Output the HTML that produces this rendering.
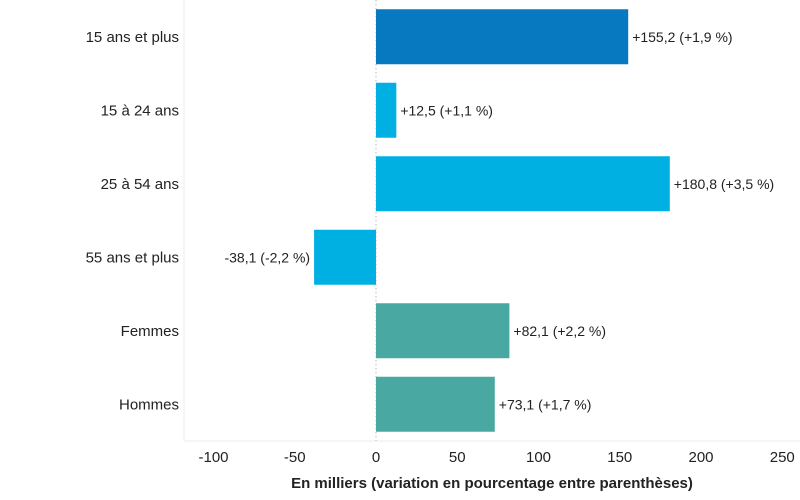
<!DOCTYPE html>
<html><head><meta charset="utf-8"><style>
body{margin:0;background:#fff;}
svg{display:block;font-family:"Liberation Sans",sans-serif;}
</style></head><body>
<svg id="chart" width="800" height="500"></svg>
<script>
const categories=["15 ans et plus","15 à 24 ans","25 à 54 ans","55 ans et plus","Femmes","Hommes"];
const values=[155.2,12.5,180.8,-38.1,82.1,73.1];
const pctLabels=["+155,2 (+1,9 %)","+12,5 (+1,1 %)","+180,8 (+3,5 %)","-38,1 (-2,2 %)","+82,1 (+2,2 %)","+73,1 (+1,7 %)"];
const colors=["#0679c0","#00b0e2","#00b0e2","#00b0e2","#4aa8a2","#4aa8a2"];
const ticks=[-100,-50,0,50,100,150,200,250];
const ns="http://www.w3.org/2000/svg";
const svg=document.getElementById('chart');
const x0=376,k=1.625,plotTop=0,plotBottom=441,plotLeft=184,plotRight=800;
const xs=v=>x0+v*k;
const band=(plotBottom-plotTop)/categories.length;
const barH=55;
function mk(t,a){const e=document.createElementNS(ns,t);for(const q in a)e.setAttribute(q,a[q]);svg.appendChild(e);return e;}
let e=mk('line',{x1:plotLeft,x2:plotLeft,y1:plotTop,y2:plotBottom,stroke:'#eee'});


e=mk('line',{x1:plotLeft,x2:plotRight,y1:plotBottom,y2:plotBottom,stroke:'#eee'});


e=mk('line',{x1:xs(0),x2:xs(0),y1:plotTop,y2:plotBottom,stroke:'#bbb','stroke-dasharray':'1.5,2.5'});


ticks.forEach(t=>{
 const tx=mk('text',{x:xs(t),y:462,'text-anchor':'middle','font-size':15,fill:'#222'});
 tx.textContent=t;
 
 
});
categories.forEach((c,i)=>{
 const cy=plotTop+band*i+band/2;
 const v=values[i];
 const r=mk('rect',{x:Math.min(xs(0),xs(v)),y:cy-barH/2,width:Math.abs(xs(v)-xs(0)),height:barH,fill:colors[i]});
 
 
 const l=mk('text',{x:179,y:cy+5,'text-anchor':'end','font-size':15,fill:'#222'});
 l.textContent=c;
 
 
 const vl=mk('text',{x:v>=0?xs(v)+4:xs(v)-4,y:cy+5,'text-anchor':v>=0?'start':'end','font-size':14,fill:'#222'});
 vl.textContent=pctLabels[i];
 
 
});
e=mk('text',{x:492,y:488,'text-anchor':'middle','font-size':15,'font-weight':'bold',fill:'#222'});
e.textContent="En milliers (variation en pourcentage entre parenthèses)";


</script>
</body></html>
